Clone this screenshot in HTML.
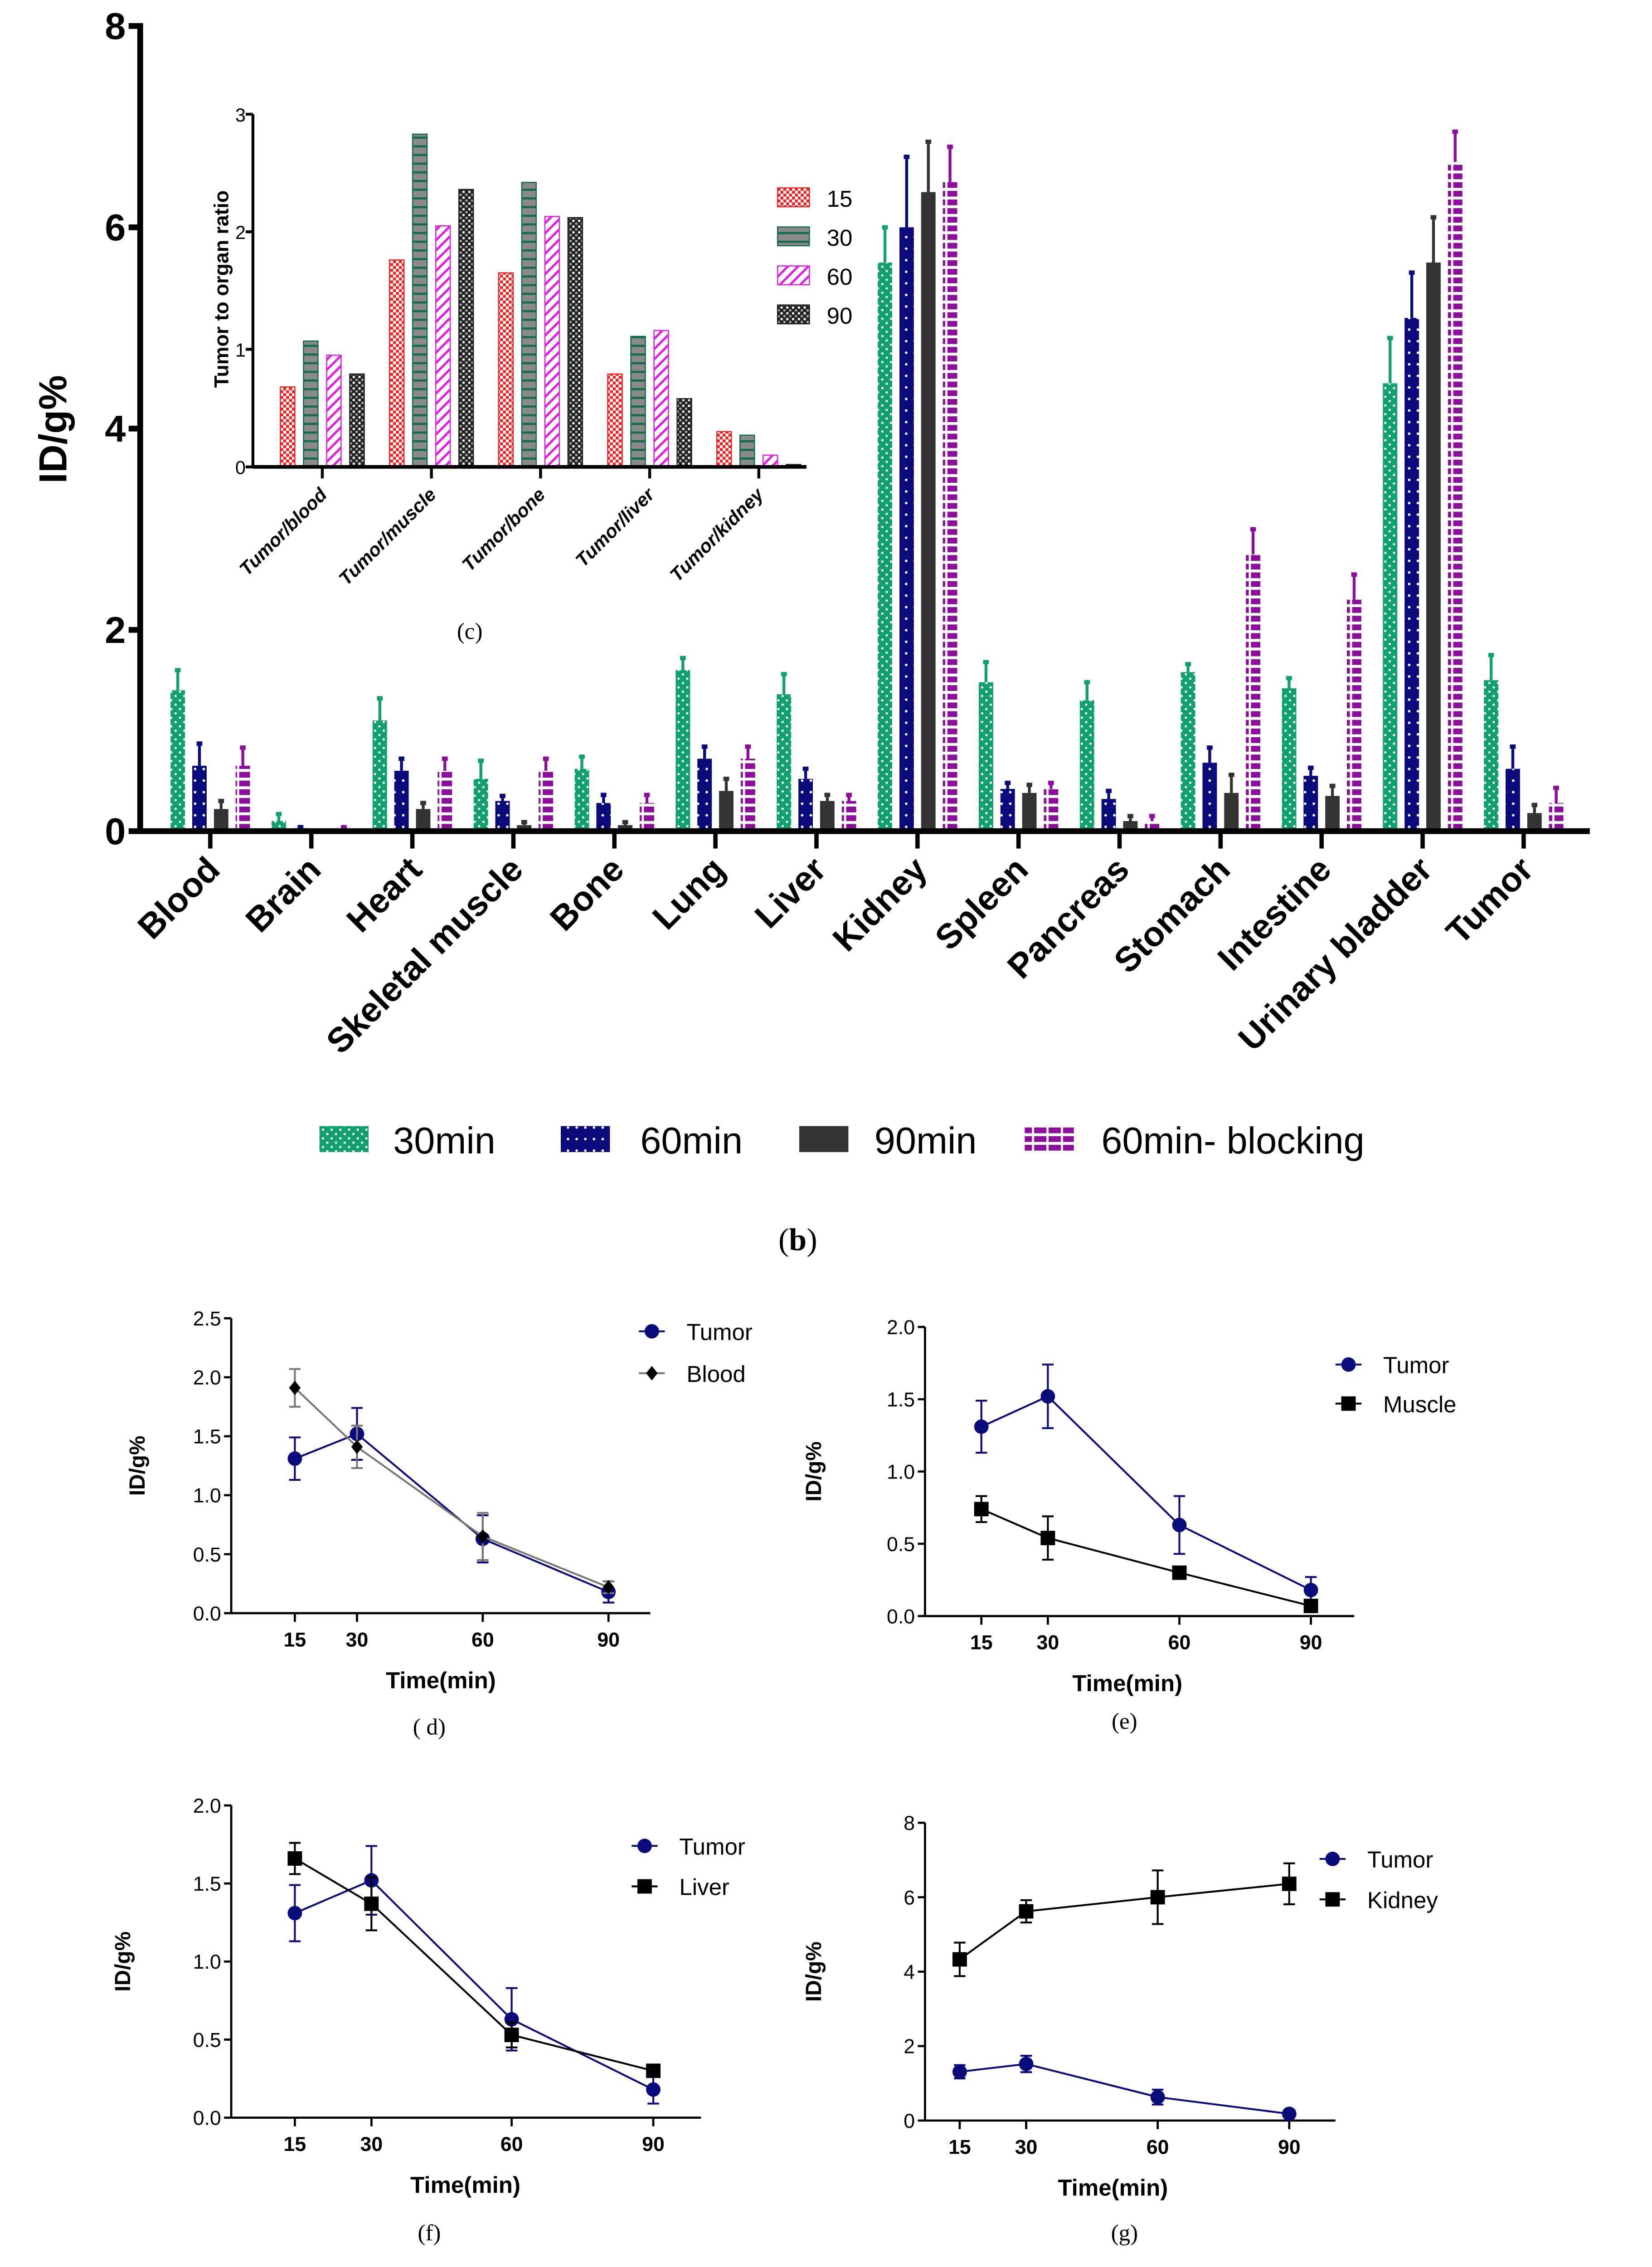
<!DOCTYPE html>
<html><head><meta charset="utf-8">
<style>
html,body{margin:0;padding:0;background:#fff;overflow:hidden;width:3644px;height:5167px;}
svg{display:block;font-family:"Liberation Sans",sans-serif;}
</style></head>
<body>
<svg id="fig" width="3644" height="5167" viewBox="0 0 1143 1620.7" xmlns="http://www.w3.org/2000/svg">
<defs>
<pattern id="pGreen" width="6" height="6" patternUnits="userSpaceOnUse"><rect width="6" height="6" fill="#13a06f"/><circle cx="1.5" cy="1.5" r="0.8" fill="#fff"/><circle cx="4.5" cy="4.5" r="0.8" fill="#fff"/></pattern>
<pattern id="pNavy" width="6" height="8" patternUnits="userSpaceOnUse"><rect width="6" height="8" fill="#0a0a7a"/><circle cx="3" cy="4" r="0.9" fill="#fff"/></pattern>
<pattern id="pPurple" width="10" height="6" patternUnits="userSpaceOnUse"><rect width="10" height="6" fill="#fff"/><rect y="0" width="10" height="4" fill="#8b0f9b"/><rect x="0" y="4" width="10" height="2" fill="#fff"/><rect x="4" y="0" width="1.5" height="4" fill="#fff"/></pattern>
<pattern id="pRed" width="4" height="4" patternUnits="userSpaceOnUse"><rect width="4" height="4" fill="#fff"/><rect width="2" height="2" fill="#f02020"/><rect x="2" y="2" width="2" height="2" fill="#f02020"/></pattern>
<pattern id="pGrey" width="10" height="6" patternUnits="userSpaceOnUse"><rect width="10" height="6" fill="#8a8a8a"/><rect y="4.5" width="10" height="1.5" fill="#136b4a"/></pattern>
<pattern id="pMag" width="5" height="5" patternUnits="userSpaceOnUse" patternTransform="rotate(45)"><rect width="5" height="5" fill="#fff"/><rect width="1.6" height="5" fill="#e020e0"/></pattern>
<pattern id="pBlk" width="4" height="4" patternUnits="userSpaceOnUse"><rect width="4" height="4" fill="#222"/><rect width="1.5" height="1.5" fill="#fff"/><rect x="2" y="2" width="1.5" height="1.5" fill="#aaa"/></pattern>
</defs>
<g id="root"></g>
</svg>
<script>
// ===== Main bar chart data (b) =====
const organs = ["Blood","Brain","Heart","Skeletal muscle","Bone","Lung","Liver","Kidney","Spleen","Pancreas","Stomach","Intestine","Urinary bladder","Tumor"];
const seriesNames = ["30min","60min","90min","60min- blocking"];
const v30 = [1.4,0.1,1.1,0.52,0.62,1.6,1.36,5.65,1.48,1.3,1.58,1.42,4.45,1.5];
const e30 = [0.2,0.07,0.22,0.18,0.12,0.12,0.2,0.35,0.2,0.18,0.08,0.1,0.45,0.25];
const v60 = [0.65,0.03,0.6,0.3,0.28,0.72,0.52,6.0,0.42,0.32,0.68,0.55,5.1,0.62];
const e60 = [0.22,0.01,0.12,0.05,0.08,0.12,0.1,0.7,0.06,0.08,0.15,0.08,0.45,0.22];
const v90 = [0.22,0.0,0.22,0.06,0.06,0.4,0.3,6.35,0.38,0.1,0.38,0.35,5.65,0.18];
const e90 = [0.08,0.0,0.06,0.03,0.03,0.12,0.06,0.5,0.08,0.05,0.18,0.1,0.45,0.08];
const vBlk = [0.65,0.03,0.6,0.6,0.28,0.72,0.3,6.45,0.42,0.1,2.75,2.3,6.65,0.28];
const eBlk = [0.18,0.01,0.12,0.12,0.08,0.12,0.06,0.35,0.06,0.05,0.25,0.25,0.3,0.15];
const mainTicks = [0,2,4,6,8];

// ===== Inset data (c) =====
const ratioCats = ["Tumor/blood","Tumor/muscle","Tumor/bone","Tumor/liver","Tumor/kidney"];
const ratioSeries = ["15","30","60","90"];
const r15 = [0.68,1.76,1.65,0.79,0.3];
const r30 = [1.07,2.83,2.42,1.11,0.27];
const r60 = [0.95,2.05,2.13,1.16,0.1];
const r90 = [0.79,2.36,2.12,0.58,0.02];
const ratioTicks = [0,1,2,3];

// ===== Line charts =====
const times = [15,30,60,90];
const tumorV = [1.31,1.52,0.63,0.18];
const tumorE = [0.18,0.22,0.2,0.09];
const bloodV = [1.91,1.41,0.65,0.22];
const bloodE = [0.16,0.18,0.2,0.05];
const muscleV = [0.74,0.54,0.3,0.07];
const muscleE = [0.09,0.15,0.02,0.02];
const liverV = [1.66,1.37,0.53,0.3];
const liverE = [0.1,0.17,0.08,0.03];
const kidneyV = [4.33,5.62,6.0,6.36];
const kidneyE = [0.45,0.3,0.72,0.55];
const ticksD = [0,0.5,1,1.5,2,2.5];
const ticksE = [0,0.5,1,1.5,2];
const ticksG = [0,2,4,6,8];

const NS="http://www.w3.org/2000/svg";
const root=document.getElementById('root');
function mk(tag,attrs,parent,txt){const e=document.createElementNS(NS,tag);for(const k in attrs)e.setAttribute(k,attrs[k]);if(txt!==undefined)e.textContent=txt;(parent||root).appendChild(e);return e;}
function grp(name,parent){const g=mk('g',{},parent);


return g;}

// ---------- Main chart ----------
(function(){
const g=grp('bar-chart-b');
const X0=97, Y0=575, Y8=18;
const y=v=>Y0-(v/8)*(Y0-Y8);
const gx=i=>123+i*69.9;
const offs=[0,15,30,45], bw=10;
const fills=["url(#pGreen)","url(#pNavy)","#333","url(#pPurple)"];
const errc=["#13a06f","#0a0a7a","#333","#8b0f9b"];
const vals=[v30,v60,v90,vBlk], errs=[e30,e60,e90,eBlk];
const keys=['30min','60min','90min','60min-blocking'];
for(let s=0;s<4;s++){
 for(let i=0;i<organs.length;i++){
  const cx=gx(i)+offs[s], v=vals[s][i], e=errs[s][i];
  if(e>0){
   const l=mk('line',{x1:cx,x2:cx,y1:y(v),y2:y(v+e),stroke:errc[s],'stroke-width':2},g);
   
   
   const c=mk('line',{x1:cx-2,x2:cx+2,y1:y(v+e),y2:y(v+e),stroke:errc[s],'stroke-width':3},g);
   
   
  }
  const r=mk('rect',{x:cx-bw/2,y:y(v),width:bw,height:Math.max(0.5,Y0-y(v)),fill:fills[s]},g);
  
  
 }
}
const ya=mk('line',{x1:X0,x2:X0,y1:Y8-2,y2:Y0+2,stroke:'#000','stroke-width':4},g);


const xa=mk('line',{x1:X0-2,x2:1100,y1:Y0,y2:Y0,stroke:'#000','stroke-width':4},g);


mainTicks.forEach(t=>{
 mk('line',{x1:X0-8,x2:X0,y1:y(t),y2:y(t),stroke:'#000','stroke-width':4},g);
 const tl=mk('text',{x:X0-10,y:y(t)+9,'text-anchor':'end','font-size':26,'font-weight':'bold'},g,String(t));
 
 
});
organs.forEach((o,i)=>{
 const tx=gx(i)+22.5;
 mk('line',{x1:tx,x2:tx,y1:Y0,y2:Y0+12,stroke:'#000','stroke-width':3},g);
 const t=mk('text',{x:tx+8,y:Y0+28,'text-anchor':'end','font-size':24,'font-weight':'bold',transform:`rotate(-45 ${tx+8} ${Y0+28})`},g,o);
 
 
});
const yt=mk('text',{x:46,y:297,'text-anchor':'middle','font-size':27,'font-weight':'bold',transform:'rotate(-90 46 297)'},g,'ID/g%');


const lx=[221,388,553,709], tx=[272,443,605,762];
for(let s=0;s<4;s++){
 const lg=grp('legend-entry',g);
 mk('rect',{x:lx[s],y:779,width:34,height:18,fill:fills[s]},lg);
 mk('text',{x:tx[s],y:798,'font-size':26},lg,seriesNames[s]);
}
const bl=mk('text',{x:552,y:865,'text-anchor':'middle','font-size':22,'font-family':'Liberation Serif, serif'},g);


bl.innerHTML='(<tspan font-weight="bold">b</tspan>)';
})();

// ---------- Inset (c) ----------
(function(){
const g=grp('inset-chart-c');
const X0=175, Y0=323, Y3=79;
const y=v=>Y0-(v/3)*(Y0-Y3);
const gx=i=>199+i*75.5;
const offs=[0,16,32,48], bw=10;
const fills=["url(#pRed)","url(#pGrey)","url(#pMag)","url(#pBlk)"];
const strokes=["#f02020","#136b4a","#e020e0","#222"];
const vals=[r15,r30,r60,r90];
for(let s=0;s<4;s++)for(let i=0;i<ratioCats.length;i++){
 const v=vals[s][i];
 const r=mk('rect',{x:gx(i)+offs[s]-bw/2,y:y(v),width:bw,height:Y0-y(v),fill:fills[s],stroke:strokes[s],'stroke-width':0.8},g);
 
 
}
mk('line',{x1:X0,x2:X0,y1:Y3,y2:Y0,stroke:'#000','stroke-width':2},g);
mk('line',{x1:X0,x2:558,y1:Y0,y2:Y0,stroke:'#000','stroke-width':2.5},g);
ratioTicks.forEach(t=>{
 mk('line',{x1:X0-5,x2:X0,y1:y(t),y2:y(t),stroke:'#000','stroke-width':2},g);
 const tl=mk('text',{x:X0-5,y:y(t)+5,'text-anchor':'end','font-size':13},g,String(t));
 
 
});
ratioCats.forEach((c,i)=>{
 const tx=gx(i)+24;
 mk('line',{x1:tx,x2:tx,y1:Y0,y2:Y0+8,stroke:'#000','stroke-width':2},g);
 const t=mk('text',{x:tx+4,y:Y0+20,'text-anchor':'end','font-size':13,'font-weight':'bold','font-style':'italic',transform:`rotate(-45 ${tx+4} ${Y0+20})`},g,c);
 
 
});
const yt=mk('text',{x:158,y:200,'text-anchor':'middle','font-size':14,'font-weight':'bold',transform:'rotate(-90 158 200)'},g,'Tumor to organ ratio');


for(let s=0;s<4;s++){
 const lg=grp('inset-legend-entry',g);
 mk('rect',{x:538,y:130+s*27,width:22,height:13,fill:fills[s],stroke:strokes[s],'stroke-width':0.8},lg);
 mk('text',{x:572,y:143+s*27,'font-size':16},lg,ratioSeries[s]);
}
const cl=mk('text',{x:325,y:442,'text-anchor':'middle','font-size':16,'font-family':'Liberation Serif, serif'},g,'(c)');


})();

// ---------- Line charts ----------
function lineChart(cfg){
 const g=grp(cfg.name);
 const y=v=>cfg.y0-(v/cfg.ymax)*(cfg.y0-cfg.ytop);
 const x=t=>cfg.xs[times.indexOf(t)];
 mk('line',{x1:cfg.ax,x2:cfg.ax,y1:cfg.ytop,y2:cfg.y0,stroke:'#000','stroke-width':1.5},g);
 mk('line',{x1:cfg.ax,x2:cfg.axEnd,y1:cfg.y0,y2:cfg.y0,stroke:'#000','stroke-width':1.5},g);
 cfg.ticks.forEach(t=>{
  mk('line',{x1:cfg.ax-5,x2:cfg.ax,y1:y(t),y2:y(t),stroke:'#000','stroke-width':1.5},g);
  const tl=mk('text',{x:cfg.ax-7,y:y(t)+5,'text-anchor':'end','font-size':14},g,cfg.fmt(t));
  
  
 });
 times.forEach(t=>{
  mk('line',{x1:x(t),x2:x(t),y1:cfg.y0,y2:cfg.y0+6,stroke:'#000','stroke-width':1.5},g);
  const tl=mk('text',{x:x(t),y:cfg.y0+23,'text-anchor':'middle','font-size':14,'font-weight':'bold'},g,String(t));
  
  
 });
 const yt=mk('text',{x:cfg.ylx,y:(cfg.y0+cfg.ytop)/2,'text-anchor':'middle','font-size':15,'font-weight':'bold',transform:`rotate(-90 ${cfg.ylx} ${(cfg.y0+cfg.ytop)/2})`},g,'ID/g%');
 
 
 const xt=mk('text',{x:cfg.xtx,y:cfg.y0+52,'text-anchor':'middle','font-size':16,'font-weight':'bold'},g,'Time(min)');
 
 
 const pl=mk('text',{x:cfg.plx,y:cfg.ply,'text-anchor':'middle','font-size':16,'font-family':'Liberation Serif, serif'},g,cfg.label);
 
 
 cfg.series.forEach((s,si)=>{
  const sg=grp('series-'+s.key,g);
  const pts=times.map((t,i)=>x(t)+','+y(s.v[i])).join(' ');
  const pl2=mk('polyline',{points:pts,fill:'none',stroke:s.line,'stroke-width':1.3},sg);
  
  
  times.forEach((t,i)=>{
   const cx=x(t),v=s.v[i],e=s.e[i];
   mk('line',{x1:cx,x2:cx,y1:y(v-e),y2:y(v+e),stroke:s.err,'stroke-width':1.3},sg);
   mk('line',{x1:cx-4,x2:cx+4,y1:y(v-e),y2:y(v-e),stroke:s.err,'stroke-width':1.3},sg);
   mk('line',{x1:cx-4,x2:cx+4,y1:y(v+e),y2:y(v+e),stroke:s.err,'stroke-width':1.3},sg);
   let m;
   if(s.marker==='circle')m=mk('circle',{cx:cx,cy:y(v),r:5,fill:'#0a0a7a'},sg);
   else if(s.marker==='square')m=mk('rect',{x:cx-5,y:y(v)-5,width:10,height:10,fill:'#000'},sg);
   else m=mk('polygon',{points:`${cx},${y(v)-5} ${cx+4},${y(v)} ${cx},${y(v)+5} ${cx-4},${y(v)}`,fill:'#000'},sg);
   
   
  });
  const lg=grp('legend-entry',g);
  const ly=cfg.legY+si*cfg.legDY, lx=cfg.legX;
  mk('line',{x1:lx-9,x2:lx+9,y1:ly,y2:ly,stroke:s.line,'stroke-width':1.3},lg);
  if(s.marker==='circle')mk('circle',{cx:lx,cy:ly,r:5,fill:'#0a0a7a'},lg);
  else if(s.marker==='square')mk('rect',{x:lx-5,y:ly-5,width:10,height:10,fill:'#000'},lg);
  else mk('polygon',{points:`${lx},${ly-5} ${lx+4},${ly} ${lx},${ly+5} ${lx-4},${ly}`,fill:'#000'},lg);
  mk('text',{x:lx+24,y:ly+6,'font-size':16},lg,s.name);
 });
}
const f1=t=>t.toFixed(1), f0=t=>String(t);
const tumorS={key:'tumor',name:'Tumor',v:tumorV,e:tumorE,line:'#0a0a7a',err:'#0a0a7a',marker:'circle'};
lineChart({name:'line-chart-d',ax:160,axEnd:450,y0:1116,ytop:912,ymax:2.5,xs:[204,247,334,421],ticks:ticksD,fmt:f1,ylx:100,xtx:305,plx:297,ply:1200,label:'( d)',legX:451,legY:921,legDY:29,
 series:[tumorS,{key:'blood',name:'Blood',v:bloodV,e:bloodE,line:'#777',err:'#777',marker:'diamond'}]});
lineChart({name:'line-chart-e',ax:640,axEnd:937,y0:1118,ytop:918,ymax:2,xs:[679,725,816,907],ticks:ticksE,fmt:f1,ylx:568,xtx:780,plx:778,ply:1196,label:'(e)',legX:933,legY:944,legDY:27,
 series:[tumorS,{key:'muscle',name:'Muscle',v:muscleV,e:muscleE,line:'#000',err:'#000',marker:'square'}]});
lineChart({name:'line-chart-f',ax:160,axEnd:485,y0:1465,ytop:1249,ymax:2,xs:[204,257,354,452],ticks:ticksE,fmt:f1,ylx:90,xtx:322,plx:297,ply:1550,label:'(f)',legX:446,legY:1277,legDY:28,
 series:[tumorS,{key:'liver',name:'Liver',v:liverV,e:liverE,line:'#000',err:'#000',marker:'square'}]});
lineChart({name:'line-chart-g',ax:640,axEnd:924,y0:1467,ytop:1261,ymax:8,xs:[664,710,801,892],ticks:ticksG,fmt:f0,ylx:568,xtx:770,plx:778,ply:1550,label:'(g)',legX:922,legY:1286,legDY:28,
 series:[tumorS,{key:'kidney',name:'Kidney',v:kidneyV,e:kidneyE,line:'#000',err:'#000',marker:'square'}]});
</script>
</body></html>
